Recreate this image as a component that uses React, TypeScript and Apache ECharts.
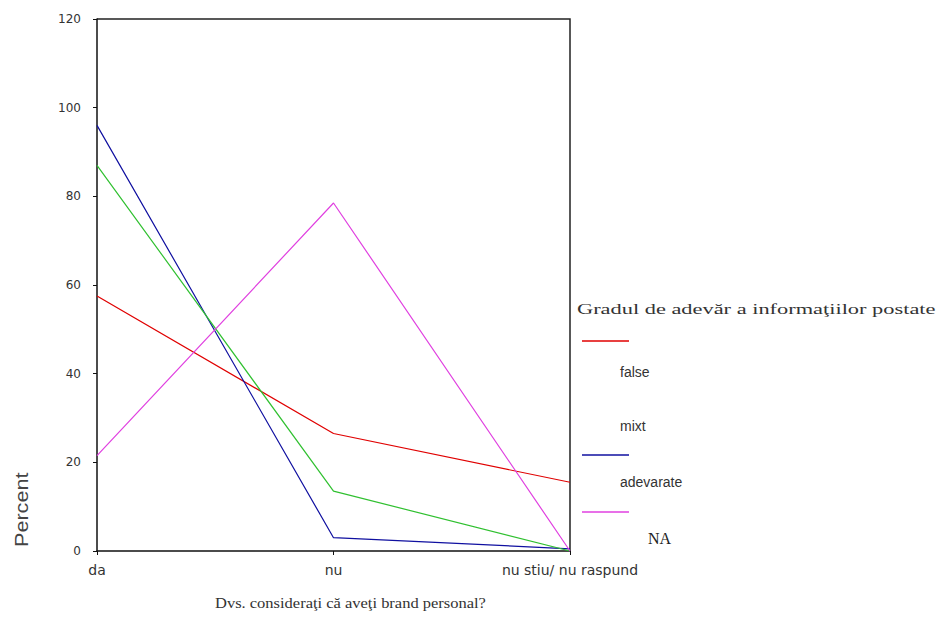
import React, { useEffect, useRef } from "react";
import * as echarts from "echarts";

const categories = ["da", "nu", "nu stiu/ nu raspund"];
const seriesNames = ["false", "mixt", "adevarate", "NA"];
const falseValues = [57.5, 26.5, 15.5];
const mixtValues = [96, 3, 0.5];
const adevarateValues = [87, 13.5, 0];
const naValues = [21.5, 78.5, 0];
const colors = ["#e00000", "#1010a0", "#30c030", "#e040e0"];
const yTicks = [0, 20, 40, 60, 80, 100, 120];

export default function App() {
  const ref = useRef<HTMLDivElement>(null);
  useEffect(() => {
    if (!ref.current) return;
    const chart = echarts.init(ref.current, undefined, { renderer: "svg" });
    const values = [falseValues, mixtValues, adevarateValues, naValues];
    const legendGraphics: any[] = [
      {
        type: "text",
        x: 577,
        y: 302,
        scaleX: 1.6,
        style: {
          text: "Gradul de adevăr a informaţiilor postate",
          font: "14px 'Liberation Serif'",
          fill: "#333",
        },
      },
    ];
    const lineYs = [341, 455, 512];
    const textYs = [365, 419, 475];
    [0, 1, 3].forEach((ci, i) => {
      legendGraphics.push({
        type: "line",
        shape: { x1: 582, y1: lineYs[i], x2: 629, y2: lineYs[i] },
        style: { stroke: colors[ci], lineWidth: 1.5 },
      });
    });
    ["false", "mixt", "adevarate"].forEach((t, i) => {
      legendGraphics.push({
        type: "text",
        left: 620,
        top: textYs[i],
        style: { text: t, font: "14px 'Liberation Sans'", fill: "#333" },
      });
    });
    legendGraphics.push({
      type: "text",
      left: 648,
      top: 530,
      style: { text: "NA", font: "16px 'Liberation Serif'", fill: "#222" },
    });
    legendGraphics.push({
      type: "polyline",
      shape: { points: [[97, 19], [570, 19], [570, 551]] },
      style: { stroke: "#222", lineWidth: 1.5, fill: "none" },
    });
    legendGraphics.push({
      type: "text",
      x: 215,
      y: 595,
      scaleX: 1.1,
      style: {
        text: "Dvs. consideraţi că aveţi brand personal?",
        font: "15px 'Liberation Serif'",
        fill: "#333",
      },
    });
    legendGraphics.push({
      type: "text",
      x: 13,
      y: 547,
      rotation: Math.PI / 2,
      scaleX: 1.2,
      style: {
        text: "Percent",
        font: "18px 'Liberation Sans'",
        fill: "#444",
      },
    });

    chart.setOption({
      animation: false,
      backgroundColor: "#ffffff",
      grid: { left: 97, top: 19, right: 374, bottom: 79, containLabel: false },
      xAxis: {
        type: "category",
        data: categories,
        boundaryGap: false,
        axisLine: { lineStyle: { color: "#111", width: 1.5 } },
        axisTick: { show: true, length: 4, lineStyle: { color: "#111" } },
        axisLabel: {
          color: "#333",
          fontFamily: "DejaVu Sans",
          fontSize: 14,
          margin: 12,
          interval: 0,
        },
        splitLine: { show: false },
      },
      yAxis: {
        type: "value",
        min: 0,
        max: 120,
        interval: 20,
        axisLine: { show: true, lineStyle: { color: "#111", width: 1.5 } },
        axisTick: { show: true, length: 4, lineStyle: { color: "#111" } },
        axisLabel: {
          color: "#333",
          fontFamily: "DejaVu Sans",
          fontSize: 12,
          margin: 16,
          formatter: (v: number) => (yTicks.includes(v) ? String(v) : ""),
        },
        splitLine: { show: false },
      },
      series: seriesNames.map((name, i) => ({
        name,
        type: "line",
        data: values[i],
        symbol: "none",
        lineStyle: { color: colors[i], width: 1.2 },
        itemStyle: { color: colors[i] },
      })),
      graphic: legendGraphics,
    });
    return () => chart.dispose();
  }, []);
  return <div ref={ref} style={{ width: 944, height: 630, margin: -8 }} />;
}
